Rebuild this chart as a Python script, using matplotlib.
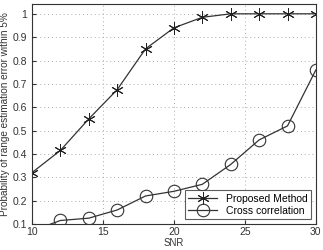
import numpy as np
import matplotlib.pyplot as plt

plt.rcParams['font.family'] = ['Liberation Sans', 'DejaVu Sans']

snr = [10, 12, 14, 16, 18, 20, 22, 24, 26, 28, 30]
proposed = [0.32, 0.415, 0.55, 0.675, 0.85, 0.94, 0.985, 1.0, 1.0, 1.0, 1.0]
cross = [0.07, 0.115, 0.125, 0.16, 0.22, 0.24, 0.27, 0.355, 0.46, 0.52, 0.76]

fig = plt.figure(figsize=(3.23, 2.5), dpi=100)
ax = fig.add_axes([0.099, 0.104, 0.879, 0.88])

# asterisk marker like matlab's '*'
ax.plot(snr, proposed, color='#333333', lw=0.9, marker=(6, 2, 0), ms=9,
        mec='#222222', mew=0.7, label='Proposed Method')
ax.plot(snr, cross, color='#333333', lw=0.9, marker='o', ms=9,
        mfc='none', mec='#333333', mew=0.8, label='Cross correlation')

ax.set_xlim(10, 30)
ax.set_ylim(0.1, 1.042)
ax.set_xticks([10, 15, 20, 25, 30])
ax.set_yticks(np.arange(0.1, 1.01, 0.1))
ax.set_yticklabels(['0.1', '0.2', '0.3', '0.4', '0.5', '0.6', '0.7', '0.8', '0.9', '1'])
ax.grid(True, linestyle=(0, (1, 3)), color='#aaaaaa', lw=0.7)
ax.tick_params(direction='in', labelsize=7.5, colors='#333333', length=3)
ax.tick_params(axis='x', pad=2)
for s in ax.spines.values():
    s.set_color('#333333')
    s.set_linewidth(0.8)

ax.set_xlabel('SNR', fontsize=7, color='#333333')
ax.xaxis.set_label_coords(0.5, -0.062)
ax.set_ylabel('Probability of range estimation error within 5%', fontsize=7.2,
              color='#333333', labelpad=2)

leg = ax.legend(loc='lower right', fontsize=7.5, frameon=True, fancybox=False,
                edgecolor='#333333', handlelength=2.8, borderpad=0.3,
                labelspacing=0.2, borderaxespad=0.5)
leg.get_frame().set_linewidth(0.8)

fig.savefig('out.png', dpi=100)
